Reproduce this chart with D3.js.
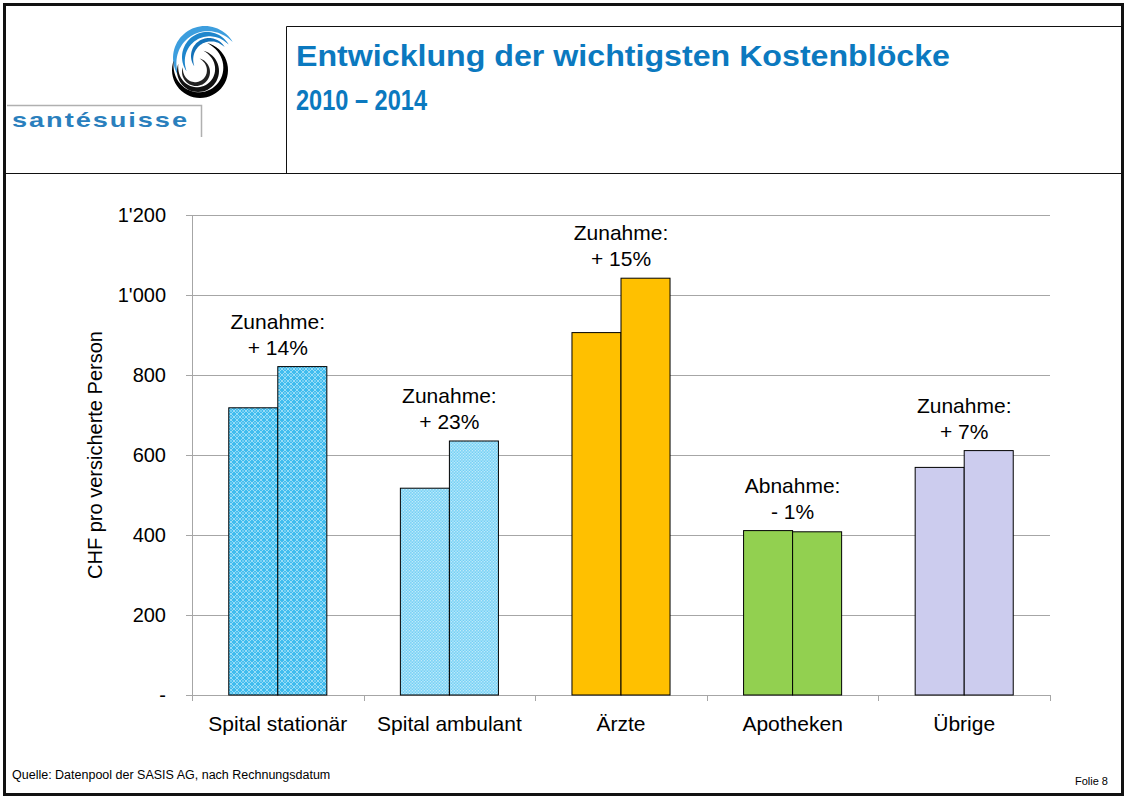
<!DOCTYPE html>
<html>
<head>
<meta charset="utf-8">
<script src="https://cdn.jsdelivr.net/npm/d3@7"></script>
<style>
  body { margin: 0; background: #fff; }
  svg text { font-family: "Liberation Sans", Arial, sans-serif; }
</style>
</head>
<body>
<div id="chart"></div>
<script>
const categories = ["Spital stationär", "Spital ambulant", "Ärzte", "Apotheken", "Übrige"];
const years = ["2010", "2014"];
const values2010 = [718, 517, 906, 411, 569];
const values2014 = [821, 635, 1042, 408, 611];
const changeWord = ["Zunahme:", "Zunahme:", "Zunahme:", "Abnahme:", "Zunahme:"];
const changeText = ["+ 14%", "+ 23%", "+ 15%", "- 1%", "+ 7%"];
const yTicks = [0, 200, 400, 600, 800, 1000, 1200];
const fills = ["url(#patStat)", "url(#patAmb)", "#ffc000", "#92d050", "#ccccee"];

const width = 1124;
const height = 798;
const margin = { top: 215, right: 74, bottom: 103, left: 192 };

const svg = d3.select("#chart").append("svg").attr("width", width).attr("height", height);

// patterns for the two hospital blocks
const defs = svg.append("defs");
const p1 = defs.append("pattern").attr("id", "patStat").attr("patternUnits", "userSpaceOnUse")
	.attr("width", 6).attr("height", 6);
p1.append("rect").attr("width", 6).attr("height", 6).attr("fill", "#40bcee");
p1.append("path").attr("d", "M0,3L3,0L6,3L3,6Z").attr("fill", "none").attr("stroke", "#c2ebfb").attr("stroke-width", 0.7);
p1.append("rect").attr("x", 2.5).attr("y", 2.5).attr("width", 1).attr("height", 1).attr("fill", "#fff");
const p2 = defs.append("pattern").attr("id", "patAmb").attr("patternUnits", "userSpaceOnUse")
	.attr("width", 3).attr("height", 3);
p2.append("rect").attr("width", 3).attr("height", 3).attr("fill", "#5cc8f3");
p2.append("rect").attr("width", 1.5).attr("height", 1.5).attr("fill", "#d8f3fd");
p2.append("rect").attr("x", 1.5).attr("y", 1.5).attr("width", 1.5).attr("height", 1.5).attr("fill", "#c6edfb");

// slide frame
svg.append("rect").attr("x", 4.5).attr("y", 4.5).attr("width", 1118).attr("height", 790)
	.attr("fill", "none").attr("stroke", "#111").attr("stroke-width", 3);
svg.append("line").attr("x1", 6).attr("x2", 1121).attr("y1", 173.5).attr("y2", 173.5).attr("stroke", "#111");
svg.append("path").attr("d", "M286.5,173V26.5H1121").attr("fill", "none").attr("stroke", "#111");

// logo
const logo = svg.append("g");
logo.append("path").attr("d", "M7,105.5H201.5V137").attr("fill", "none").attr("stroke", "#b0b0b0").attr("stroke-width", 1.5);
logo.append("text").attr("x", 12).attr("y", 127).attr("fill", "#2a7fbd")
	.attr("font-size", 21).attr("font-weight", "bold").attr("letter-spacing", 1.5)
	.attr("font-family", "'DejaVu Sans', sans-serif").attr("textLength", 177)
	.attr("lengthAdjust", "spacingAndGlyphs").text("santésuisse");

// tapered swoosh stripes
const swoosh = (cx, cy, r, w, a0, a1) => {
	const n = 40;
	const outer = d3.range(n + 1).map((k) => {
		const t = a0 + ((a1 - a0) * k) / n;
		return [cx + r * Math.cos(t), cy + r * Math.sin(t)];
	});
	const inner = d3.range(n + 1).map((k) => {
		const t = a0 + ((a1 - a0) * k) / n;
		const rr = r - w * Math.pow(Math.sin((Math.PI * k) / n), 0.8);
		return [cx + rr * Math.cos(t), cy + rr * Math.sin(t)];
	}).reverse();
	return d3.line()(outer.concat(inner)) + "Z";
};
const rad = Math.PI / 180;
[[32, 6, "#3d9ede"], [25, 5, "#1f86cc"], [18, 4, "#1371b8"]].forEach(([r, w, c], i) => {
	logo.append("path").attr("d", swoosh(205 + i * 2, 58 - i, r, w, 145 * rad, 330 * rad)).attr("fill", c);
});
[[28, 6, "#000"], [21, 5, "#111"], [14, 4, "#222"]].forEach(([r, w, c], i) => {
	logo.append("path").attr("d", swoosh(200 - i * 2, 70 + i, r, w, -75 * rad, 200 * rad)).attr("fill", c);
});

// title
const title = svg.append("g").attr("fill", "#0b79bf").attr("font-weight", "bold").attr("font-size", 30)
	.attr("font-family", "'Liberation Sans Narrow', 'Liberation Sans', Arial, sans-serif");
title.append("text").attr("x", 296).attr("y", 66).attr("textLength", 654).attr("lengthAdjust", "spacingAndGlyphs")
	.text("Entwicklung der wichtigsten Kostenblöcke");
title.append("text").attr("x", 296).attr("y", 110).attr("textLength", 131).attr("lengthAdjust", "spacingAndGlyphs")
	.text("2010 – 2014");

// scales
const x0 = d3.scaleBand().domain(categories).range([margin.left, width - margin.right]).padding(0);
const x1 = d3.scaleBand().domain(years).range([0, x0.bandwidth()]).paddingInner(0).paddingOuter(0.75);
const y = d3.scaleLinear().domain([0, 1200]).range([height - margin.bottom, margin.top]);

// gridlines + y ticks
const yAxis = svg.append("g").attr("transform", `translate(${margin.left - 6},0)`)
	.call(d3.axisLeft(y).tickValues(yTicks).tickSizeInner(-(width - margin.right - margin.left + 6)).tickSizeOuter(0).tickPadding(20)
		.tickFormat((d) => (d === 0 ? "-" : d3.format(",")(d).replace(",", "'"))));
yAxis.select(".domain").remove();
yAxis.selectAll(".tick line").attr("stroke", "#a6a6a6");
yAxis.selectAll(".tick text").attr("font-size", 20).attr("fill", "#000");

svg.append("line").attr("x1", margin.left + 0.5).attr("x2", margin.left + 0.5)
	.attr("y1", y(1200)).attr("y2", y(0)).attr("stroke", "#a6a6a6");

// x axis
const xAxis = svg.append("g").attr("transform", `translate(0,${y(0)})`)
	.call(d3.axisBottom(x0).tickSize(0).tickPadding(21));
xAxis.select(".domain").attr("stroke", "#a6a6a6");
xAxis.selectAll(".tick text").attr("font-size", 21).attr("fill", "#000");
svg.append("g").selectAll("line")
	.data(categories.map((c) => x0(c)).concat([x0.range()[1]]))
	.join("line")
	.attr("x1", (d) => Math.round(d) + 0.5).attr("x2", (d) => Math.round(d) + 0.5)
	.attr("y1", y(0)).attr("y2", y(0) + 6).attr("stroke", "#a6a6a6");

// bars
const rows = categories.map((c, i) => ({ cat: c, i, vals: [values2010[i], values2014[i]] }));
const groups = svg.append("g").selectAll("g").data(rows).join("g")
	.attr("transform", (d) => `translate(${x0(d.cat)},0)`);
groups.selectAll("rect")
	.data((d) => d.vals.map((v, j) => ({ year: years[j], v, i: d.i })))
	.join("rect")
	.attr("x", (d) => x1(d.year))
	.attr("y", (d) => y(d.v))
	.attr("width", x1.bandwidth())
	.attr("height", (d) => y(0) - y(d.v))
	.attr("fill", (d) => fills[d.i])
	.attr("stroke", "#000")
	.attr("stroke-width", 1);

// annotations
const notes = groups.append("text")
	.attr("text-anchor", "middle")
	.attr("font-size", 21)
	.attr("fill", "#000");
notes.append("tspan")
	.attr("x", x0.bandwidth() / 2)
	.attr("y", (d) => y(d3.max(d.vals)) - 38)
	.text((d) => changeWord[d.i]);
notes.append("tspan")
	.attr("x", x0.bandwidth() / 2)
	.attr("y", (d) => y(d3.max(d.vals)) - 12)
	.text((d) => changeText[d.i]);

// y label
svg.append("text")
	.attr("transform", `translate(102,${(y(0) + y(1200)) / 2}) rotate(-90)`)
	.attr("text-anchor", "middle").attr("font-size", 20).attr("fill", "#000")
	.text("CHF pro versicherte Person");

// footer
svg.append("text").attr("x", 12).attr("y", 779).attr("font-size", 12.5).attr("fill", "#000")
	.text("Quelle: Datenpool der SASIS AG, nach Rechnungsdatum");
svg.append("text").attr("x", 1108).attr("y", 785).attr("text-anchor", "end").attr("font-size", 11).attr("fill", "#000")
	.text("Folie 8");
</script>
</body>
</html>
